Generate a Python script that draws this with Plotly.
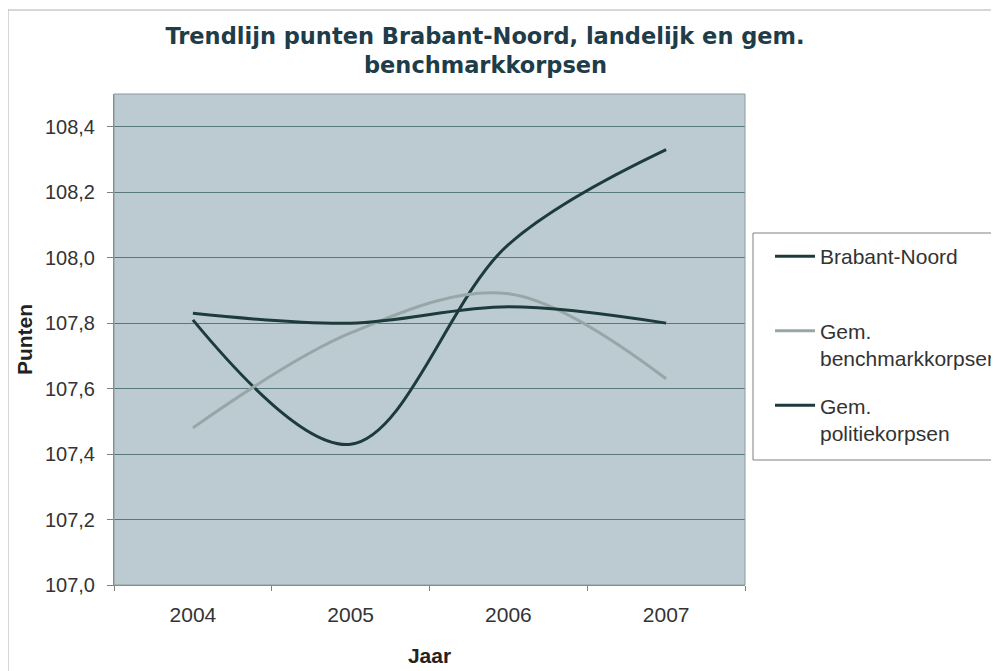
import plotly.graph_objects as go

years = ["2004", "2005", "2006", "2007"]
brabant_noord = [107.81, 107.43, 108.04, 108.33]
gem_benchmark = [107.48, 107.77, 107.89, 107.63]
gem_politie = [107.83, 107.80, 107.85, 107.80]
y_ticks = [107.0, 107.2, 107.4, 107.6, 107.8, 108.0, 108.2, 108.4]
y_tick_labels = ["107,0", "107,2", "107,4", "107,6", "107,8", "108,0", "108,2", "108,4"]

dark = "#1e3b3c"
gray = "#97a7a8"
title_color = "#203c48"
title_font = dict(family="DejaVu Sans, Arial, sans-serif", size=22.5, color=title_color)

# plot area in page coordinates (page has an 8px body offset)
L, T, W, H = 106, 86, 631, 491
def px(xr):
    return (xr - 8 - L) / W
def py(yr):
    return (T + H - (yr - 8)) / H

fig = go.Figure()
fig.add_trace(go.Scatter(x=years, y=brabant_noord, name="Brabant-Noord<br> ", mode="lines",
                         line=dict(color=dark, width=3, shape="spline", smoothing=1.0),
                         legendgroup="a"))
fig.add_trace(go.Scatter(x=years, y=gem_benchmark, name="Gem.<br>benchmarkkorpsen", mode="lines",
                         line=dict(color=gray, width=3, shape="spline", smoothing=1.0),
                         legendgroup="b"))
fig.add_trace(go.Scatter(x=years, y=gem_politie, name="Gem.<br>politiekorpsen", mode="lines",
                         line=dict(color=dark, width=3, shape="spline", smoothing=1.0),
                         legendgroup="c"))

fig.update_layout(
    width=999, height=671,
    margin=dict(l=L, r=999 - L - W, t=T, b=671 - T - H, autoexpand=False),
    paper_bgcolor="white",
    plot_bgcolor="#bccbd2",
    font=dict(family="Arial, Liberation Sans, sans-serif", size=20, color="#333333"),
    title=dict(text="<b>Trendlijn punten Brabant-Noord, landelijk en gem.</b>",
               x=477 / 999, xanchor="center", xref="container",
               y=1 - 20 / 671, yanchor="top", yref="container",
               font=title_font),
    showlegend=True,
    legend=dict(x=px(770), y=py(236), xanchor="left", yanchor="top",
                borderwidth=0, bgcolor="rgba(0,0,0,0)", valign="top",
                font=dict(size=21, color="#333333"), tracegroupgap=17,
                itemwidth=40),
    xaxis=dict(type="category", range=[-0.5, 3.5], showgrid=False,
               ticks="outside", tickson="boundaries", ticklen=5, tickcolor="#808080",
               showline=True, linecolor="#808080", linewidth=1,
               ticklabelstandoff=11,
               title=dict(text="<b>Jaar</b>", font=dict(size=21, color="#222222"), standoff=23),
               tickfont=dict(size=21)),
    yaxis=dict(range=[107.0, 108.5], tickvals=y_ticks, ticktext=y_tick_labels,
               showgrid=True, gridcolor="#58797b", gridwidth=1,
               ticks="outside", ticklen=6, tickcolor="#808080",
               showline=True, linecolor="#808080", linewidth=1, zeroline=False,
               ticklabelstandoff=8,
               title=dict(text="<b>Punten</b>", font=dict(size=21, color="#222222"), standoff=6),
               tickfont=dict(size=20)),
)

# second title line
fig.add_annotation(text="<b>benchmarkkorpsen</b>", xref="paper", yref="paper",
                   x=px(485), y=py(65), xanchor="center", yanchor="middle",
                   showarrow=False, font=title_font)

# outer chart frame, legend frame, plot frame
fig.add_shape(type="rect", xref="paper", yref="paper",
              x0=px(8), x1=px(1010), y0=py(680), y1=py(10),
              line=dict(color="#b0b0b0", width=1), layer="below")
fig.add_shape(type="rect", xref="paper", yref="paper",
              x0=px(753), x1=px(1005), y0=py(460), y1=py(233),
              line=dict(color="#808080", width=1), fillcolor="white", layer="below")
fig.add_shape(type="rect", xref="paper", yref="paper", x0=0, x1=1, y0=0, y1=1,
              line=dict(color="#8a9a9a", width=1))

fig.write_html("out.html")
